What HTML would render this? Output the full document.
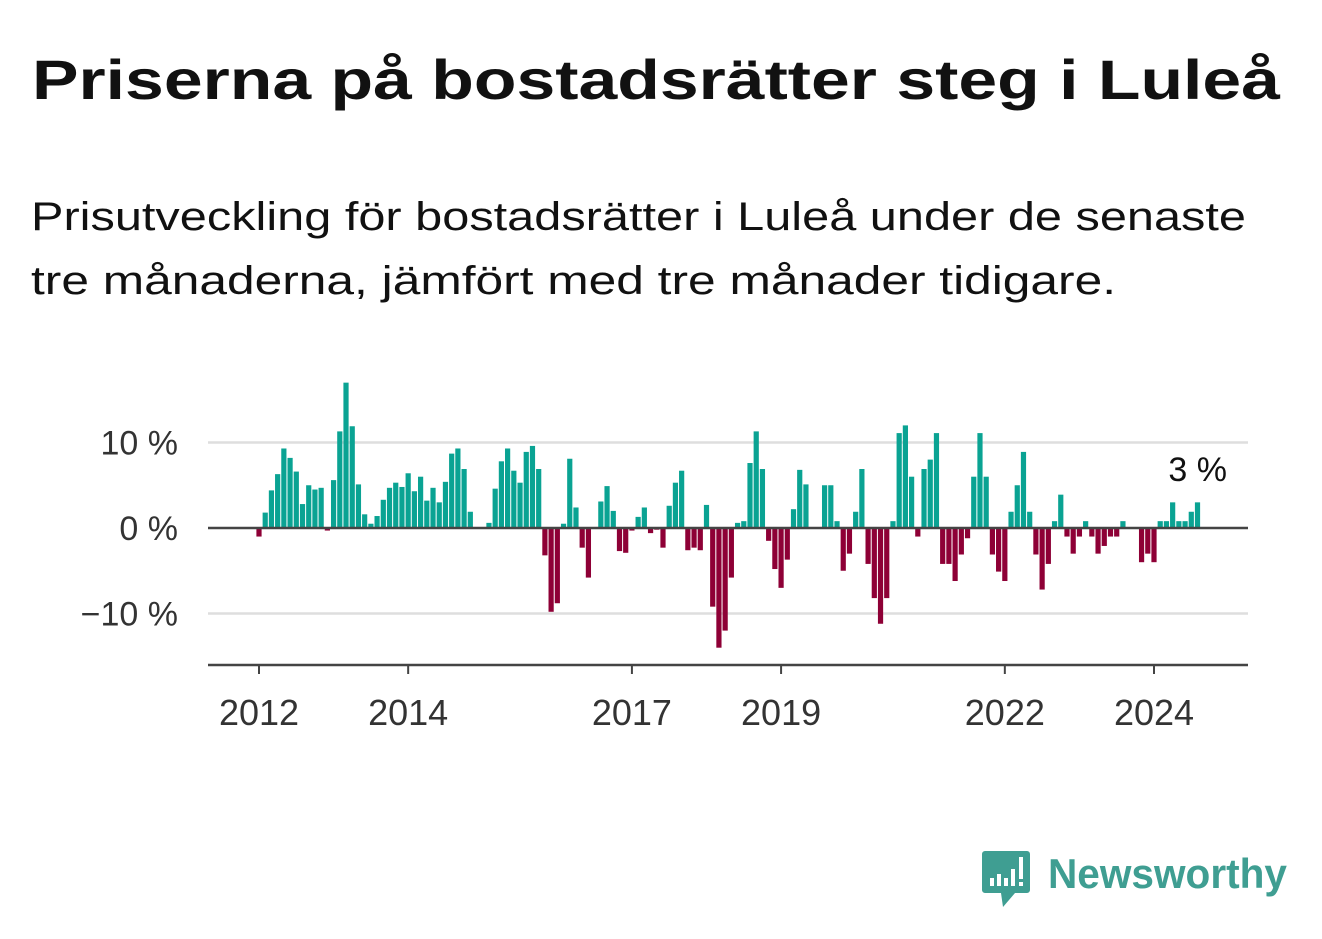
<!DOCTYPE html>
<html><head><meta charset="utf-8"><style>
html,body{margin:0;padding:0;background:#fff;}
svg{display:block;font-family:"Liberation Sans",sans-serif;}
</style></head><body>
<svg id="chart" width="1322" height="939" viewBox="0 0 1322 939">
<text x="32" y="99" font-size="56" font-weight="bold" fill="#111" textLength="1248" lengthAdjust="spacingAndGlyphs">Priserna på bostadsrätter steg i Luleå</text>
<text x="31" y="230" font-size="40" fill="#111" textLength="1215" lengthAdjust="spacingAndGlyphs">Prisutveckling för bostadsrätter i Luleå under de senaste</text>
<text x="31" y="294" font-size="40" fill="#111" textLength="1085" lengthAdjust="spacingAndGlyphs">tre månaderna, jämfört med tre månader tidigare.</text>
<g id="grid"></g>
<g id="bars"></g>
<g id="axes"></g>
<text x="1227" y="481" font-size="34" fill="#111" text-anchor="end">3 %</text>
<g>
<path d="M985 851 h42 a3 3 0 0 1 3 3 v36 a3 3 0 0 1 -3 3 h-12 l-12 14 l-2 -14 h-16 a3 3 0 0 1 -3 -3 v-36 a3 3 0 0 1 3 -3z" fill="#3f9e92"/>
<rect x="990" y="878" width="4" height="8" fill="#fff"/>
<rect x="997" y="874" width="4" height="12" fill="#fff"/>
<rect x="1004" y="878" width="4" height="8" fill="#fff"/>
<rect x="1011" y="869" width="4" height="17" fill="#fff"/>
<rect x="1019" y="857" width="4" height="22" fill="#fff"/>
<rect x="1019" y="882" width="4" height="4" fill="#fff"/>
<text x="1048" y="888" font-size="42" font-weight="bold" fill="#3f9e92" textLength="239" lengthAdjust="spacingAndGlyphs">Newsworthy</text>
</g>
</svg>
<script>
const values = [-1,1.8,4.4,6.3,9.3,8.2,6.6,2.8,5,4.5,4.7,-0.3,5.6,11.3,17,11.9,5.1,1.6,0.5,1.4,3.3,4.7,5.3,4.8,6.4,4.3,6,3.2,4.7,3,5.4,8.7,9.3,6.9,1.9,0,0,0.6,4.6,7.8,9.3,6.7,5.3,8.9,9.6,6.9,-3.2,-9.8,-8.8,
0.5,8.1,2.4,-2.3,-5.8,0,3.1,4.9,2,-2.7,-2.9,-0.3,1.3,2.4,-0.6,-0.2,-2.3,2.6,5.3,6.7,-2.6,-2.3,-2.6,2.7,-9.2,-14,-12,-5.8,0.6,0.8,7.6,11.3,6.9,-1.5,-4.8,-7,-3.7,2.2,6.8,5.1,0,0,5,5,0.8,-5,-3,1.9,6.9,-4.2,-8.2,-11.2,-8.2,
0.8,11.1,12,6,-1,6.9,8,11.1,-4.2,-4.2,-6.2,-3.1,-1.2,6,11.1,6,-3.1,-5.1,-6.2,1.9,5,8.9,1.9,-3.1,-7.2,-4.2,0.8,3.9,-1,-3,-1,0.8,-1,-3,-2.1,-1,-1,0.8,0,0,-4,-3,-4,0.8,0.8,3,0.8,0.8,1.9,3];
const yTicks = [10,0,-10];
const yTickLabels = ["10 %","0 %","−10 %"];
const xTickYears = [2012,2014,2017,2019,2022,2024];
const NS="http://www.w3.org/2000/svg";
const x0=259, perMonth=(1154-259)/144, startYear=2012;
function xScale(i){return x0+perMonth*i;}
function xYear(y){return xScale((y-startYear)*12);}
function yScale(v){return 528-v*8.55;}
function mk(tag,attrs,parent){const e=document.createElementNS(NS,tag);for(const k in attrs)e.setAttribute(k,attrs[k]);parent.appendChild(e);return e;}
const grid=document.getElementById('grid'),bars=document.getElementById('bars'),axes=document.getElementById('axes');
yTicks.forEach((t,k)=>{
  if(t!==0){const l=mk('line',{x1:208,x2:1248,y1:yScale(t),y2:yScale(t),stroke:'#dedede','stroke-width':2.5},grid);
  
  }
  const tx=mk('text',{x:178,y:yScale(t)+12,'font-size':34,fill:'#333','text-anchor':'end'},axes);
  tx.textContent=yTickLabels[k];
  
  
});
values.forEach((v,i)=>{
  if(v===0)return;
  const y=yScale(Math.max(v,0)),h=Math.abs(yScale(v)-yScale(0));
  const r=mk('rect',{x:xScale(i)-2.6,y:y,width:5.2,height:h,fill:v>0?'#0aa393':'#8e0036'},bars);
  
  
});
const zl=mk('line',{x1:208,x2:1248,y1:yScale(0),y2:yScale(0),stroke:'#444','stroke-width':2.5},axes);


const ax=mk('line',{x1:208,x2:1248,y1:665,y2:665,stroke:'#444','stroke-width':2.5},axes);


xTickYears.forEach(yr=>{
  const x=xYear(yr);
  const t=mk('line',{x1:x,x2:x,y1:665,y2:674,stroke:'#444','stroke-width':2},axes);
  
  
  const tx=mk('text',{x:x,y:725,'font-size':36,fill:'#333','text-anchor':'middle'},axes);
  tx.textContent=yr;
  
  
});
</script>
</body></html>
